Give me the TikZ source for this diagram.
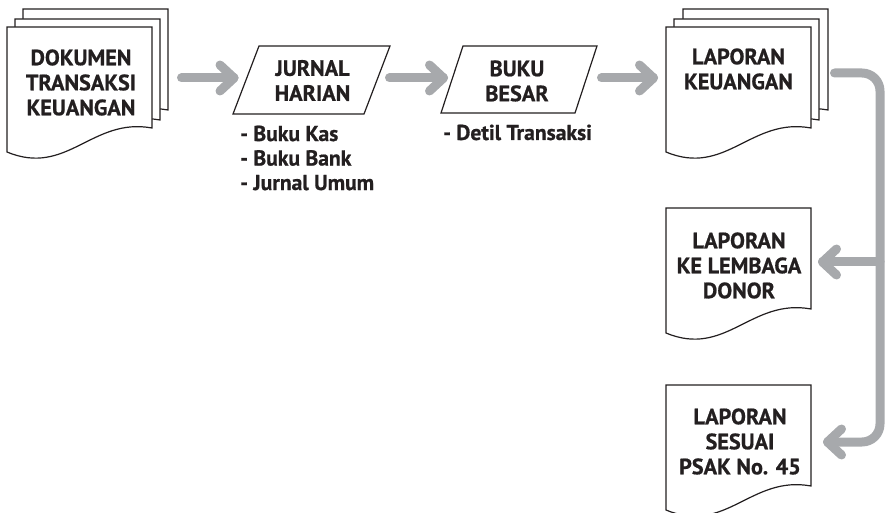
\documentclass[tikz,border=0pt]{standalone}
\usepackage{fontspec}
\setmainfont{PT Sans}[BoldFeatures={FakeBold=0.8}]
\definecolor{flowgray}{RGB}{167,169,172}
\definecolor{ink}{RGB}{35,31,32}
\tikzset{
  pageline/.style={draw=ink, fill=white, line width=1.2pt, line join=miter},
  lbl/.style={font=\bfseries\fontsize{22.2}{25}\selectfont, text=ink, align=center, inner sep=0pt},
  sublbl/.style={font=\bfseries\fontsize{21.6}{24.5}\selectfont, text=ink, align=left, inner sep=0pt},
  flow/.style={draw=flowgray, line width=9pt, line cap=round, line join=round}
}
\newcommand\docpage[2]{%
  \filldraw[pageline] (#1,#2) -- ({#1+145},#2) -- ({#1+145},{#2+101})
    .. controls ({#1+85},{#2+90}) and ({#1+60},{#2+150}) .. (#1,{#2+125}) -- cycle;}
\begin{document}
\begin{tikzpicture}[x=1pt,y=-1pt]
\useasboundingbox (0,0) rectangle (887,513);
% document 1
\docpage{23}{9}
\docpage{15}{19}
\docpage{7}{27}
\node[lbl] (dok) at (81,82.5) {DOKUMEN\\TRANSAKSI\\KEUANGAN};
% jurnal harian
\draw[pageline] (259,46) -- (390,46) -- (364,114) -- (233,114) -- cycle;
\node[lbl] (jur) at (312.5,80.5) {JURNAL\\HARIAN};
\node[sublbl, anchor=west] (jurlist) at (240,158) {- Buku Kas\\- Buku Bank\\- Jurnal Umum};
% buku besar
\draw[pageline] (463,46) -- (597,46) -- (575,113) -- (441,113) -- cycle;
\node[lbl] (buku) at (517,81) {BUKU\\BESAR};
\node[sublbl, anchor=base west] (detil) at (443,140) {- Detil Transaksi};
% laporan keuangan
\docpage{683}{9}
\docpage{674}{19}
\docpage{666}{27}
\node[lbl] (lapk) at (738.5,69) {LAPORAN\\KEUANGAN};
% laporan donor
\docpage{666}{208}
\node[lbl] (lapd) at (739,265.5) {LAPORAN\\KE LEMBAGA\\DONOR};
% laporan psak
\docpage{666}{385}
\node[lbl] (laps) at (740,441.5) {LAPORAN\\SESUAI\\PSAK No. 45};
% arrows
\coordinate (a1s) at (181.5,78); \coordinate (a1e) at (234,78);
\coordinate (a2s) at (389.5,78); \coordinate (a2e) at (443.5,78);
\coordinate (a3s) at (601.5,78); \coordinate (a3e) at (653.5,78);
\foreach \s/\e in {a1s/a1e, a2s/a2e, a3s/a3e}{
  \draw[flow] (\s) -- (\e);
  \draw[flow] ([shift={(-14,-13)}]\e) -- (\e) -- ([shift={(-14,13)}]\e);
}
\coordinate (c0) at (834.5,73); \coordinate (c1) at (880,73);
\coordinate (c2) at (880,442); \coordinate (c3) at (827.5,442);
\draw[flow, rounded corners=18pt] (c0) -- (c1) -- (c2) -- (c3);
\draw[flow] ([shift={(14,-13)}]c3) -- (c3) -- ([shift={(14,13)}]c3);
\coordinate (b0) at (880,262); \coordinate (b1) at (822.5,262);
\draw[flow] (b0) -- (b1);
\draw[flow] ([shift={(14,-13)}]b1) -- (b1) -- ([shift={(14,13)}]b1);
\end{tikzpicture}
\end{document}
